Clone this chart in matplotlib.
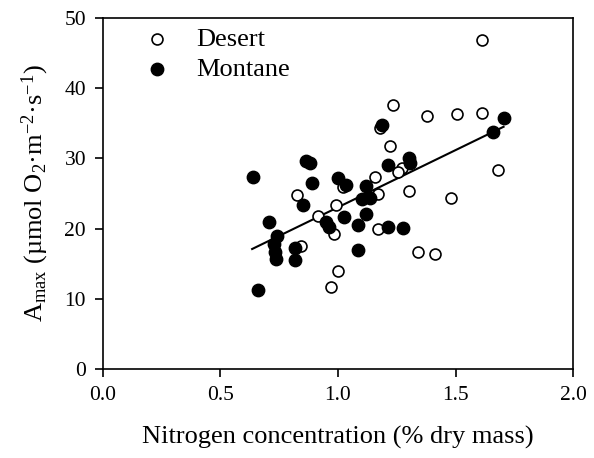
import numpy as np
import matplotlib
matplotlib.use("Agg")
from matplotlib import pyplot as plt

# data
desert_n = [1.611, 1.233, 1.377, 1.508, 1.611, 1.178, 1.219, 1.682, 1.271, 1.257,
            1.157, 1.022, 1.172, 1.303, 1.480, 0.824, 0.991, 0.916, 0.982, 1.172,
            0.843, 1.002, 0.970, 1.340, 1.412]
desert_a = [46.9, 37.6, 36.0, 36.3, 36.4, 34.3, 31.7, 28.3, 28.7, 28.0,
            27.4, 25.9, 25.0, 25.3, 24.4, 24.8, 23.4, 21.8, 19.3, 19.9,
            17.5, 14.0, 11.7, 16.7, 16.4]

montane_n = [0.637, 0.707, 0.740, 0.726, 0.732, 0.736, 0.817, 0.817, 0.661, 0.852,
             0.864, 0.882, 0.888, 0.950, 0.963, 0.999, 1.035, 1.025, 1.085, 1.083,
             1.100, 1.120, 1.135, 1.119, 1.187, 1.214, 1.214, 1.278, 1.300, 1.306,
             1.658, 1.706]
montane_a = [27.3, 20.9, 18.9, 17.8, 16.7, 15.7, 17.2, 15.6, 11.2, 23.3,
             29.6, 29.3, 26.5, 21.0, 20.2, 27.2, 26.2, 21.7, 20.5, 16.9,
             24.2, 26.0, 24.3, 22.1, 34.8, 29.1, 20.2, 20.1, 30.0, 29.4,
             33.7, 35.8]

# regression line as drawn (endpoints of the fitted line)
fit_n = [0.635, 1.704]
fit_a = [17.1, 34.5]

plt.rcParams['font.family'] = ['Liberation Serif', 'DejaVu Serif']
plt.rcParams['mathtext.fontset'] = 'custom'
plt.rcParams['mathtext.rm'] = 'Liberation Serif'
plt.rcParams['mathtext.it'] = 'Liberation Serif:italic'

fig = plt.figure(figsize=(5.94, 4.58), dpi=100)
ax = fig.add_axes([0.173, 0.194, 0.792, 0.767])

ax.plot(fit_n, fit_a, color='black', lw=1.5, zorder=1)
ax.scatter(desert_n, desert_a, s=62, facecolor='white', edgecolor='black',
           linewidths=1.2, label='Desert', zorder=2)
ax.scatter(montane_n, montane_a, s=80, facecolor='black', edgecolor='black',
           linewidths=1.0, label='Montane', zorder=3)

ax.set_xlim(0, 2)
ax.set_ylim(0, 50)
ax.set_xticks([0.0, 0.5, 1.0, 1.5, 2.0])
ax.set_xticklabels(['0.0', '0.5', '1.0', '1.5', '2.0'])
ax.set_yticks([0, 10, 20, 30, 40, 50])
ax.tick_params(direction='out', length=6, width=1.2, labelsize=15.5, pad=6)
for sp in ax.spines.values():
    sp.set_linewidth(1.2)

ax.set_xlabel('Nitrogen concentration (% dry mass)', fontsize=19, labelpad=15)
ax.set_ylabel(r'A$_{\rm max}$ (µmol O$_2$·m$^{-2}$·s$^{-1}$)', fontsize=19, labelpad=10)

ax.legend(loc='upper left', frameon=False, fontsize=19, handletextpad=0.5,
          labelspacing=0.25, borderaxespad=0.0, bbox_to_anchor=(0.036, 1.003))

fig.savefig('out.png', dpi=100)
